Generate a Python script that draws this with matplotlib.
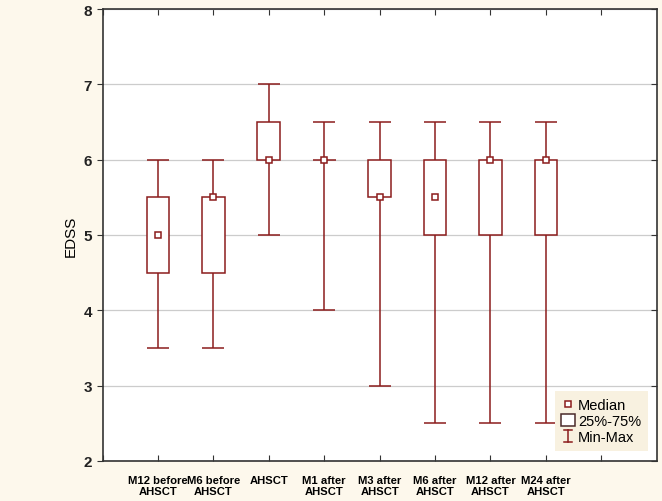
import numpy as np
import matplotlib
matplotlib.use("Agg")
import matplotlib.pyplot as plt
from matplotlib.lines import Line2D
from matplotlib.patches import Rectangle
from matplotlib.legend_handler import HandlerBase

plt.rcParams.update({"font.family": ["Liberation Sans", "DejaVu Sans"]})

RED = "#8b1c1c"
CREAM = "#fdf8ec"

labels = ["M12 before\nAHSCT", "M6 before\nAHSCT", "AHSCT", "M1 after\nAHSCT",
          "M3 after\nAHSCT", "M6 after\nAHSCT", "M12 after\nAHSCT", "M24 after\nAHSCT"]
mins = [3.5, 3.5, 5.0, 4.0, 3.0, 2.5, 2.5, 2.5]
q1 = [4.5, 4.5, 6.0, 6.0, 5.5, 5.0, 5.0, 5.0]
medians = [5.0, 5.5, 6.0, 6.0, 5.5, 5.5, 6.0, 6.0]
q3 = [5.5, 5.5, 6.5, 6.0, 6.0, 6.0, 6.0, 6.0]
maxs = [6.0, 6.0, 7.0, 6.5, 6.5, 6.5, 6.5, 6.5]


class WhiskerHandler(HandlerBase):
    # vertical line with caps, like the Min-Max icon
    def create_artists(self, legend, orig_handle, xdescent, ydescent,
                       width, height, fontsize, trans):
        cx = width / 2 - xdescent
        y0, y1 = -ydescent, height - ydescent
        c = width * 0.3
        kw = dict(color=RED, lw=1.1, transform=trans)
        return [Line2D([cx, cx], [y0, y1], **kw),
                Line2D([cx - c, cx + c], [y0, y0], **kw),
                Line2D([cx - c, cx + c], [y1, y1], **kw)]


x = np.arange(1, len(labels) + 1)
med = np.array(medians)

fig = plt.figure(figsize=(6.62, 5.02), dpi=100, facecolor=CREAM)
ax = fig.add_axes([0.155, 0.080, 0.837, 0.900])
ax.set_facecolor("white")

# whiskers (min-max)
ax.errorbar(x, med, yerr=[med - np.array(mins), np.array(maxs) - med],
            fmt="none", ecolor=RED, elinewidth=1.1, capsize=8, capthick=1.1, zorder=2)
# boxes 25%-75%
ax.bar(x, np.array(q3) - np.array(q1), bottom=q1, width=0.41, facecolor="white",
       edgecolor=RED, linewidth=1.1, zorder=3)
# medians
ax.plot(x, med, ls="none", marker="s", ms=5, mfc="white", mec=RED, mew=1.1, zorder=4)

ax.set_xlim(0, 10)
ax.set_ylim(2, 8)
ax.set_xticks(range(0, 10))
ax.set_xticklabels([""] + labels + [""], fontsize=8.1, fontweight="bold", linespacing=1.15)
ax.set_yticks(range(2, 9))
ax.set_yticklabels([str(v) for v in range(2, 9)], fontsize=11, fontweight="bold", color="#222222")
ax.tick_params(axis="x", direction="in", top=True, length=4, color="#333333", pad=10)
ax.tick_params(axis="y", direction="out", length=4, color="#333333")
ax.grid(axis="y", color="#cccccc", lw=0.9)
ax.set_axisbelow(True)
for s in ax.spines.values():
    s.set_color("#333333")
    s.set_linewidth(1.2)
ax.set_ylabel("EDSS", fontsize=11)

# inward ticks on the right spine
axr = ax.twinx()
axr.set_ylim(ax.get_ylim())
axr.set_yticks(range(2, 9))
axr.tick_params(axis="y", direction="in", length=4, color="#333333", labelright=False)
for s in axr.spines.values():
    s.set_visible(False)

h_med = Line2D([], [], ls="none", marker="s", ms=5, mfc="white", mec=RED, mew=1.1)
h_box = Rectangle((0, 0), 1, 1, facecolor="white", edgecolor="#4a2a2a", linewidth=1.1)
h_wsk = object()
leg = axr.legend([h_med, h_box, h_wsk], ["Median", "25%-75%", "Min-Max"],
                 handler_map={h_wsk: WhiskerHandler()},
                 loc="lower right", bbox_to_anchor=(0.984, 0.022), borderaxespad=0,
                 fontsize=10.5, frameon=True, facecolor="#f8f1e0", edgecolor="none",
                 framealpha=1, handlelength=0.9, handleheight=0.85, handletextpad=0.25,
                 labelspacing=0.15, borderpad=0.45, fancybox=False)

fig.savefig("out.png", dpi=100, facecolor=CREAM)
